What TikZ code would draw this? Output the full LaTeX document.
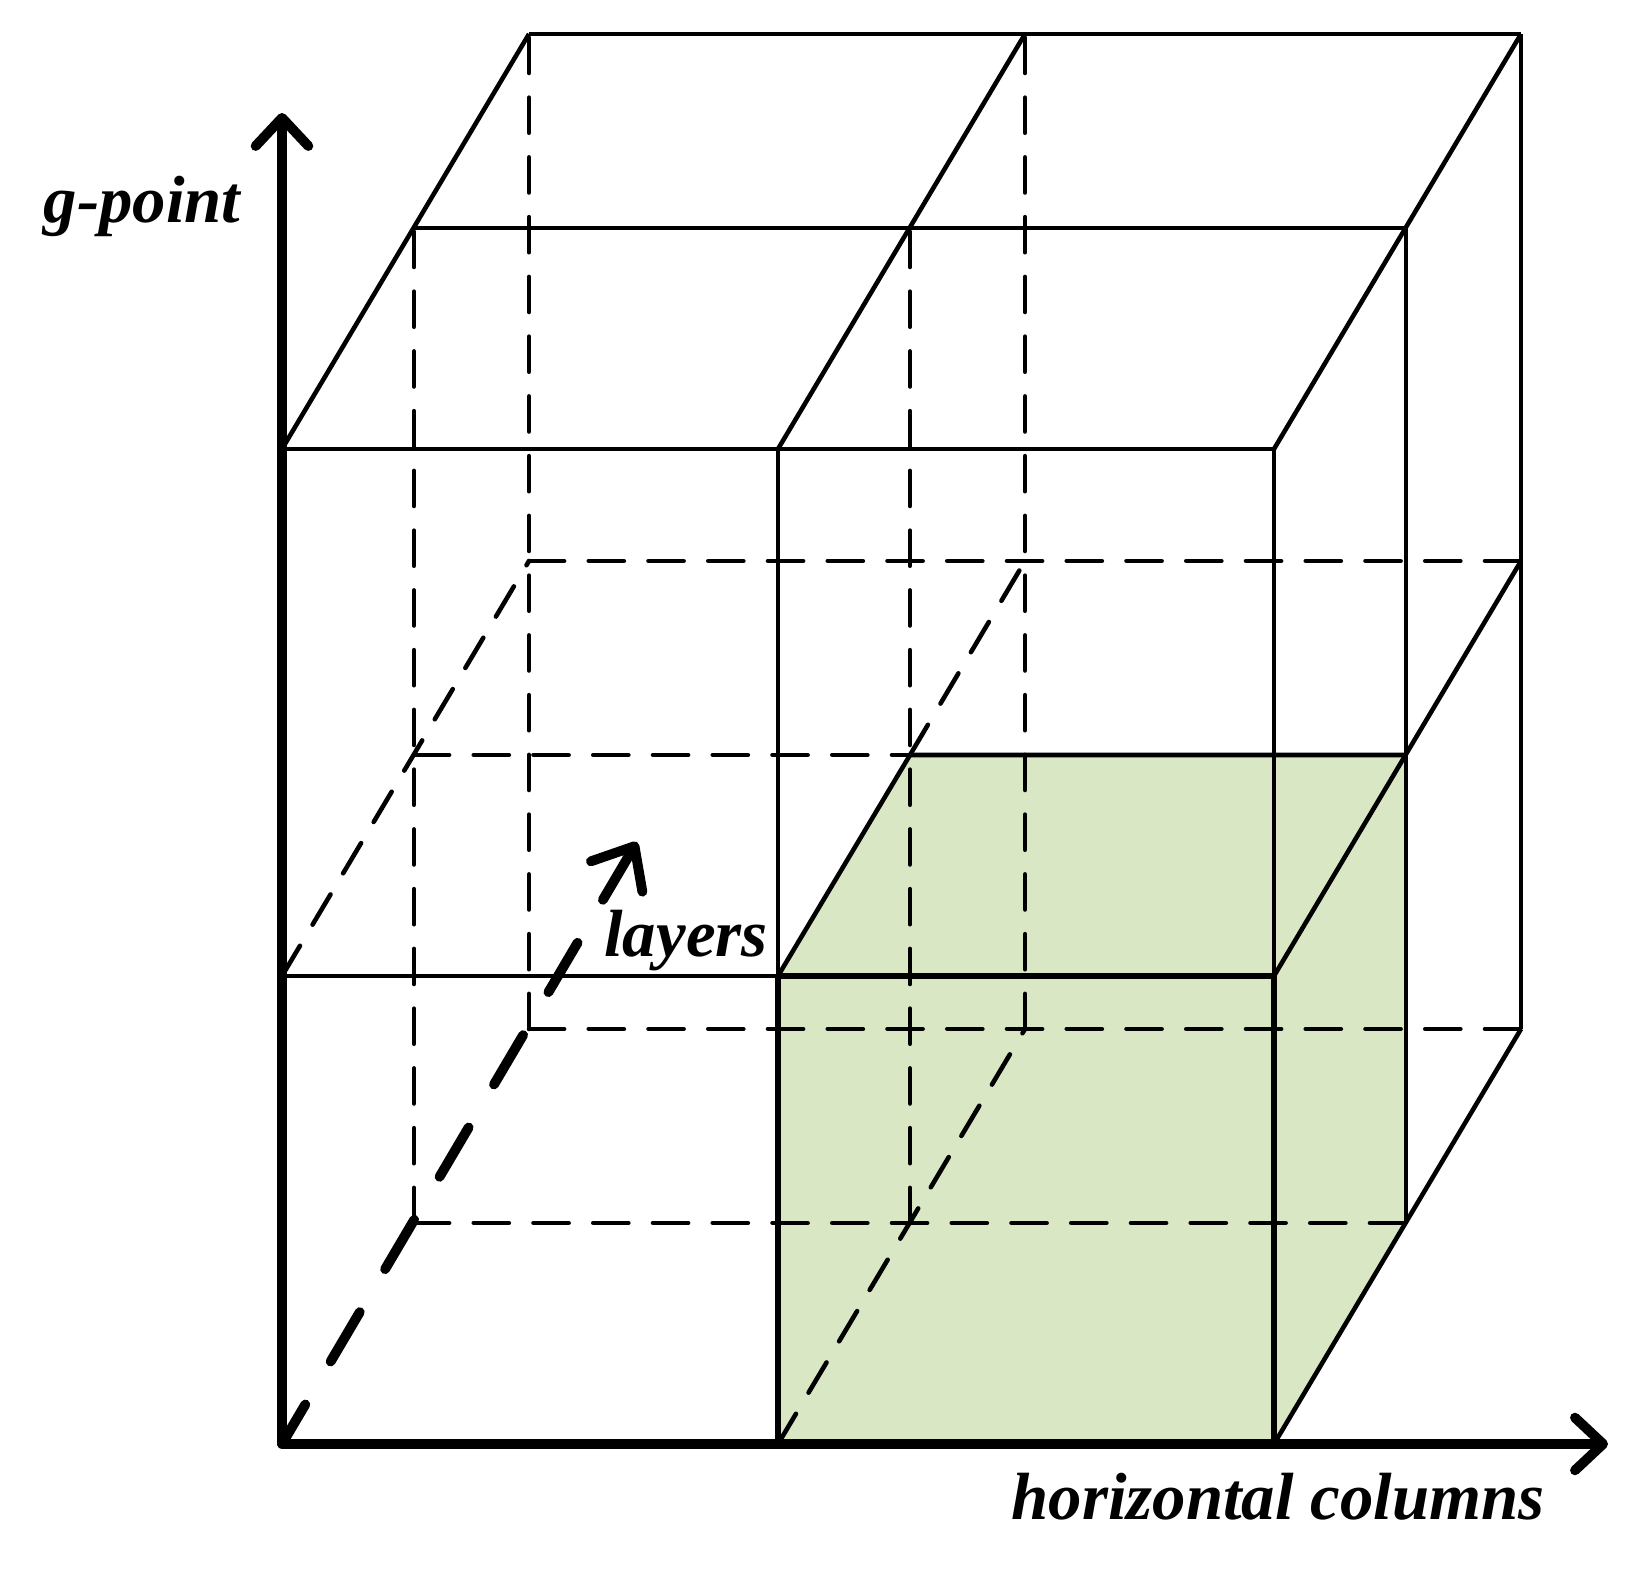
\documentclass[tikz,border=0pt]{standalone}
\usepackage{fontspec}
\setmainfont{Liberation Serif}
\usetikzlibrary{arrows.meta}
\definecolor{cellgreen}{RGB}{217,231,196}

\begin{document}
\begin{tikzpicture}[
    edge/.style={line width=1.3pt, line join=round},
    hidden/.style={edge, line cap=round, dash pattern=on 10pt off 7pt},
    celledge/.style={line width=1.7pt, line join=round},
    axis/.style={line width=2.8pt, line join=round,
      {Straight Barb[round,length=8pt,width=15pt]}-{Straight Barb[round,length=8pt,width=15pt]}},
    layerarrow/.style={line width=2.8pt, line cap=round, dash pattern=on 16.3pt off 14.2pt,
      {Straight Barb[round,length=10pt,width=17pt]}-},
    axislabel/.style={font=\fontsize{19}{22}\selectfont\bfseries\itshape, anchor=base, inner sep=0pt}]
        \useasboundingbox (0,0) rectangle (16.37,15.71);
        % grid points c<col><row><layer>
        \foreach \k/\dx/\dy in {0/0/0, 1/1.32/2.21, 2/2.47/4.15}
          \foreach \i in {0,1,2}
            \foreach \j/\h in {0/0, 1/4.68, 2/9.95}
              \coordinate (c\i\j\k) at ({2.82+4.96*\i+\dx},{1.27+\h+\dy});
        \coordinate (ytip) at (2.82,14.58);
        \coordinate (xtip) at (16.08,1.27);
        \coordinate (ztip) at (6.37,7.29);
        % selected cell
        \fill[cellgreen] (c100)--(c200)--(c201)--(c211)--(c111)--(c110)--cycle;
        % hidden edges
        \foreach \k in {1,2}{
          \draw[hidden] (c00\k)--(c02\k);
          \draw[hidden] (c10\k)--(c12\k);
          \draw[hidden] (c00\k)--(c20\k);
        }
        \draw[hidden] (c012)--(c212);
        \draw[hidden] (c011)--(c111);
        \draw[hidden] (c100)--(c102);
        \draw[hidden] (c010)--(c012);
        \draw[hidden] (c111)--(c112);
        % front face
        \draw[edge] (c010)--(c210);
        \draw[edge] (c020)--(c220);
        \draw[edge] (c100)--(c120);
        \draw[edge] (c200)--(c220);
        % top face
        \draw[edge] (c021)--(c221);
        \draw[edge] (c022)--(c222);
        \foreach \i in {0,1,2}
          \draw[edge] (c\i20)--(c\i22);
        % right face
        \draw[edge] (c201)--(c221);
        \draw[edge] (c202)--(c222);
        \draw[edge] (c200)--(c202);
        \draw[edge] (c210)--(c212);
        % selected cell outline
        \draw[celledge] (c100)--(c110)--(c210)--(c200);
        \draw[edge] (c110)--(c111)--(c211);
        % axes
        \draw[axis] (ytip)--(c000)--(xtip);
        \draw[layerarrow] (ztip)--(c000);
        \node[axislabel] (gpoint) at (1.42,13.48) {g-point};
        \node[axislabel] (hcols) at (12.78,0.51) {horizontal columns};
        \node[axislabel] (layers) at (6.86,6.14) {layers};
\end{tikzpicture}
\end{document}
